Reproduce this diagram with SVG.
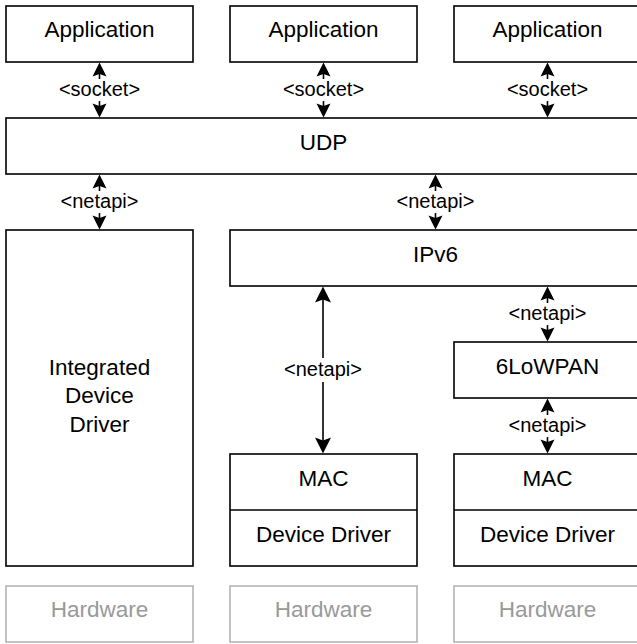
<svg xmlns="http://www.w3.org/2000/svg" width="637" height="644" viewBox="0 0 637 644">
<defs>
<style>
.box{fill:#ffffff;stroke:#000000;stroke-width:1.6}
.hw{fill:#ffffff;stroke:#b3b3b3;stroke-width:1.6}
.t{font-family:"Liberation Sans",Arial,Helvetica,sans-serif;font-size:22.5px;fill:#000000;text-anchor:middle}
.th{font-family:"Liberation Sans",Arial,Helvetica,sans-serif;font-size:22.5px;fill:#999999;text-anchor:middle}
.lbl{font-family:"Liberation Sans",Arial,Helvetica,sans-serif;font-size:20px;fill:#000000;text-anchor:middle}
.edge{stroke:#000000;stroke-width:1.6;fill:none}
.lblbg{fill:#ffffff;stroke:none}
.ah{fill:#000000;stroke:none}
</style>
<path id="ahUp" class="ah" d="M0,0 L7,14 L0,11.5 L-7,14 Z"/>
<path id="ahDown" class="ah" d="M0,0 L7,-14 L0,-11.5 L-7,-14 Z"/>
<path id="ahUpL" class="ah" d="M0,0 L8,16 L0,13 L-8,16 Z"/>
<path id="ahDownL" class="ah" d="M0,0 L8,-16 L0,-13 L-8,-16 Z"/>
</defs>
<rect x="0" y="0" width="637" height="644" fill="#ffffff"/>

<g id="connectors">
<line class="edge" x1="99.5" y1="66" x2="99.5" y2="114"/>
<line class="edge" x1="323.5" y1="66" x2="323.5" y2="114"/>
<line class="edge" x1="547.5" y1="66" x2="547.5" y2="114"/>
<line class="edge" x1="99.5" y1="178" x2="99.5" y2="226"/>
<line class="edge" x1="435.5" y1="178" x2="435.5" y2="226"/>
<line class="edge" x1="323" y1="290" x2="323" y2="450" stroke-width="1.8"/>
<line class="edge" x1="547.5" y1="290" x2="547.5" y2="338"/>
<line class="edge" x1="547.5" y1="402" x2="547.5" y2="450"/>
<use href="#ahUp" x="99.5" y="62.5"/><use href="#ahDown" x="99.5" y="117.5"/>
<use href="#ahUp" x="323.5" y="62.5"/><use href="#ahDown" x="323.5" y="117.5"/>
<use href="#ahUp" x="547.5" y="62.5"/><use href="#ahDown" x="547.5" y="117.5"/>
<use href="#ahUp" x="99.5" y="174.5"/><use href="#ahDown" x="99.5" y="229.5"/>
<use href="#ahUp" x="435.5" y="174.5"/><use href="#ahDown" x="435.5" y="229.5"/>
<use href="#ahUpL" x="323" y="286.5"/><use href="#ahDownL" x="323" y="453.5"/>
<use href="#ahUp" x="547.5" y="286.5"/><use href="#ahDown" x="547.5" y="341.5"/>
<use href="#ahUp" x="547.5" y="398.5"/><use href="#ahDown" x="547.5" y="453.5"/>
<rect class="lblbg" x="56" y="79" width="87" height="22"/>
<rect class="lblbg" x="280" y="79" width="87" height="22"/>
<rect class="lblbg" x="504" y="79" width="87" height="22"/>
<rect class="lblbg" x="60" y="191" width="79" height="22"/>
<rect class="lblbg" x="396" y="191" width="79" height="22"/>
<rect class="lblbg" x="283.5" y="358" width="79" height="24"/>
<rect class="lblbg" x="508" y="303" width="79" height="22"/>
<rect class="lblbg" x="508" y="415" width="79" height="22"/>
<text class="lbl" x="99.5" y="95.5">&lt;socket&gt;</text>
<text class="lbl" x="323.5" y="95.5">&lt;socket&gt;</text>
<text class="lbl" x="547.5" y="95.5">&lt;socket&gt;</text>
<text class="lbl" x="99.5" y="207.5">&lt;netapi&gt;</text>
<text class="lbl" x="435.5" y="207.5">&lt;netapi&gt;</text>
<text class="lbl" x="323" y="376">&lt;netapi&gt;</text>
<text class="lbl" x="547.5" y="319.5">&lt;netapi&gt;</text>
<text class="lbl" x="547.5" y="431.5">&lt;netapi&gt;</text>
</g>

<g id="app1"><rect class="box" x="6" y="6" width="187" height="56"/><text class="t" x="99.5" y="37">Application</text></g>
<g id="app2"><rect class="box" x="230" y="6" width="187" height="56"/><text class="t" x="323.5" y="37">Application</text></g>
<g id="app3"><rect class="box" x="454" y="6" width="187" height="56"/><text class="t" x="547.5" y="37">Application</text></g>

<g id="udp"><rect class="box" x="6" y="118" width="640" height="56"/><text class="t" x="323.5" y="149.5">UDP</text></g>

<g id="integrated"><rect class="box" x="6" y="230" width="187" height="336"/>
<text class="t" x="99.5" y="374.5">Integrated</text>
<text class="t" x="99.5" y="403">Device</text>
<text class="t" x="99.5" y="431.5">Driver</text></g>

<g id="ipv6"><rect class="box" x="230" y="230" width="420" height="56"/><text class="t" x="435.5" y="261.5">IPv6</text></g>

<g id="sixlowpan"><rect class="box" x="454" y="342" width="187" height="56"/><text class="t" x="547.5" y="373.5">6LoWPAN</text></g>

<g id="mac-dd-2"><rect class="box" x="230" y="454" width="187" height="112"/><line x1="230" y1="510" x2="417" y2="510" stroke="#000" stroke-width="1.6"/>
<text class="t" x="323.5" y="485.5">MAC</text><text class="t" x="323.5" y="541.5">Device Driver</text></g>

<g id="mac-dd-3"><rect class="box" x="454" y="454" width="187" height="112"/><line x1="454" y1="510" x2="641" y2="510" stroke="#000" stroke-width="1.6"/>
<text class="t" x="547.5" y="485.5">MAC</text><text class="t" x="547.5" y="541.5">Device Driver</text></g>

<g id="hw1"><rect class="hw" x="6" y="586" width="187" height="56"/><text class="th" x="99.5" y="616.5">Hardware</text></g>
<g id="hw2"><rect class="hw" x="230" y="586" width="187" height="56"/><text class="th" x="323.5" y="616.5">Hardware</text></g>
<g id="hw3"><rect class="hw" x="454" y="586" width="187" height="56"/><text class="th" x="547.5" y="616.5">Hardware</text></g>
</svg>
